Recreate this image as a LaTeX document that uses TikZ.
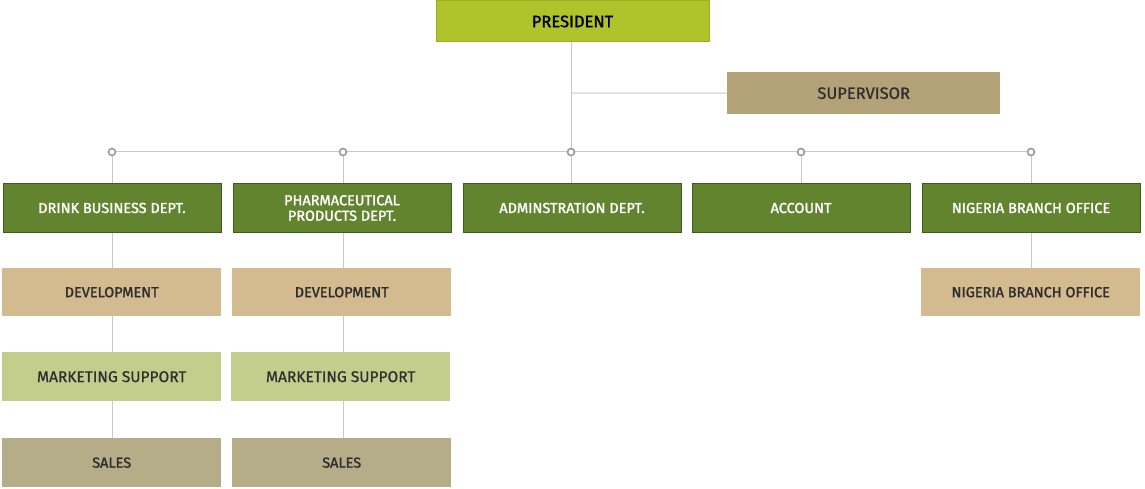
\documentclass[tikz,border=0pt]{standalone}
\usepackage{fontspec}
\setmainfont{Fira Sans}
\newfontfamily\semi{Fira Sans}[FakeBold=1.6]
\newfontfamily\med{Fira Sans}[FakeBold=0.8]
\definecolor{pres}{HTML}{AEC42A}
\definecolor{presb}{HTML}{9AAF25}
\definecolor{sup}{HTML}{B3A177}
\definecolor{dept}{HTML}{62842F}
\definecolor{deptb}{HTML}{3F5A1F}
\definecolor{dev}{HTML}{D4BB8F}
\definecolor{mkt}{HTML}{C3CE8D}
\definecolor{sal}{HTML}{B4AD87}
\definecolor{ln}{HTML}{C8C8C8}
\definecolor{txt}{HTML}{2E2E2E}
\definecolor{dot}{HTML}{999999}
\begin{document}
\begin{tikzpicture}[x=1pt,y=-1pt,
  box/.style={minimum width=219pt,minimum height=48pt,inner sep=0pt,anchor=north west,align=center,font=\semi\fontsize{14.5}{15.5}\selectfont},
  deptbox/.style={box,fill=dept,draw=deptb,line width=1pt,text=white,minimum width=218pt},
  devbox/.style={box,fill=dev,text=txt},
  mktbox/.style={box,fill=mkt,text=txt,minimum height=49pt,font=\med\fontsize{15.5}{16}\selectfont},
  salbox/.style={box,fill=sal,text=txt,minimum height=49pt},
  conn/.style={draw=ln,line width=1pt},
  knot/.style={circle,draw=dot,fill=white,line width=1.6pt,minimum size=7pt,inner sep=0pt}]
\useasboundingbox (0,0) rectangle (1145,489);
\node[anchor=north west,minimum width=273pt,minimum height=41pt,inner sep=0pt,fill=pres,draw=presb,line width=1pt,text=black,font=\semi\fontsize{16.5}{17}\selectfont] (pres) at (435.5,0.5) {PRESIDENT};
\node[anchor=north west,minimum width=273pt,minimum height=42pt,inner sep=0pt,fill=sup,text=txt,font=\med\fontsize{16.5}{17}\selectfont] (sup) at (727,72) {SUPERVISOR};
\coordinate (hub) at (571,93);
\node[knot] (k1) at (112,152) {};
\node[knot] (k2) at (343,152) {};
\node[knot] (k3) at (571,152) {};
\node[knot] (k4) at (801,152) {};
\node[knot] (k5) at (1031,152) {};
% departments
\node[deptbox] (d1) at (2.5,183.5) {DRINK BUSINESS DEPT.};
\node[deptbox] (d2) at (232.5,183.5) {PHARMACEUTICAL\\PRODUCTS DEPT.};
\node[deptbox] (d3) at (462.5,183.5) {ADMINSTRATION DEPT.};
\node[deptbox] (d4) at (691.5,183.5) {ACCOUNT};
\node[deptbox] (d5) at (921.5,183.5) {NIGERIA BRANCH OFFICE};
\node[devbox] (v1) at (2,268) {DEVELOPMENT};
\node[devbox] (v2) at (232,268) {DEVELOPMENT};
\node[devbox] (v5) at (921,268) {NIGERIA BRANCH OFFICE};
\node[mktbox] (m1) at (2,352) {MARKETING SUPPORT};
\node[mktbox] (m2) at (231,352) {MARKETING SUPPORT};
\node[salbox] (s1) at (2,438) {SALES};
\node[salbox] (s2) at (232,438) {SALES};
% connectors
\draw[conn] (pres.south -| k3) -- (k3.north);
\draw[conn] (hub) -- (sup.west);
\draw[conn] (k1.east) -- (k2.west);
\draw[conn] (k2.east) -- (k3.west);
\draw[conn] (k3.east) -- (k4.west);
\draw[conn] (k4.east) -- (k5.west);
\draw[conn] (k1.south) -- (d1.north -| k1);
\draw[conn] (k2.south) -- (d2.north -| k2);
\draw[conn] (k3.south) -- (d3.north -| k3);
\draw[conn] (k4.south) -- (d4.north -| k4);
\draw[conn] (k5.south) -- (d5.north -| k5);
\draw[conn] (d1.south -| k1) -- (v1.north -| k1);
\draw[conn] (v1.south -| k1) -- (m1.north -| k1);
\draw[conn] (m1.south -| k1) -- (s1.north -| k1);
\draw[conn] (d2.south -| k2) -- (v2.north -| k2);
\draw[conn] (v2.south -| k2) -- (m2.north -| k2);
\draw[conn] (m2.south -| k2) -- (s2.north -| k2);
\draw[conn] (d5.south -| k5) -- (v5.north -| k5);
\end{tikzpicture}
\end{document}
